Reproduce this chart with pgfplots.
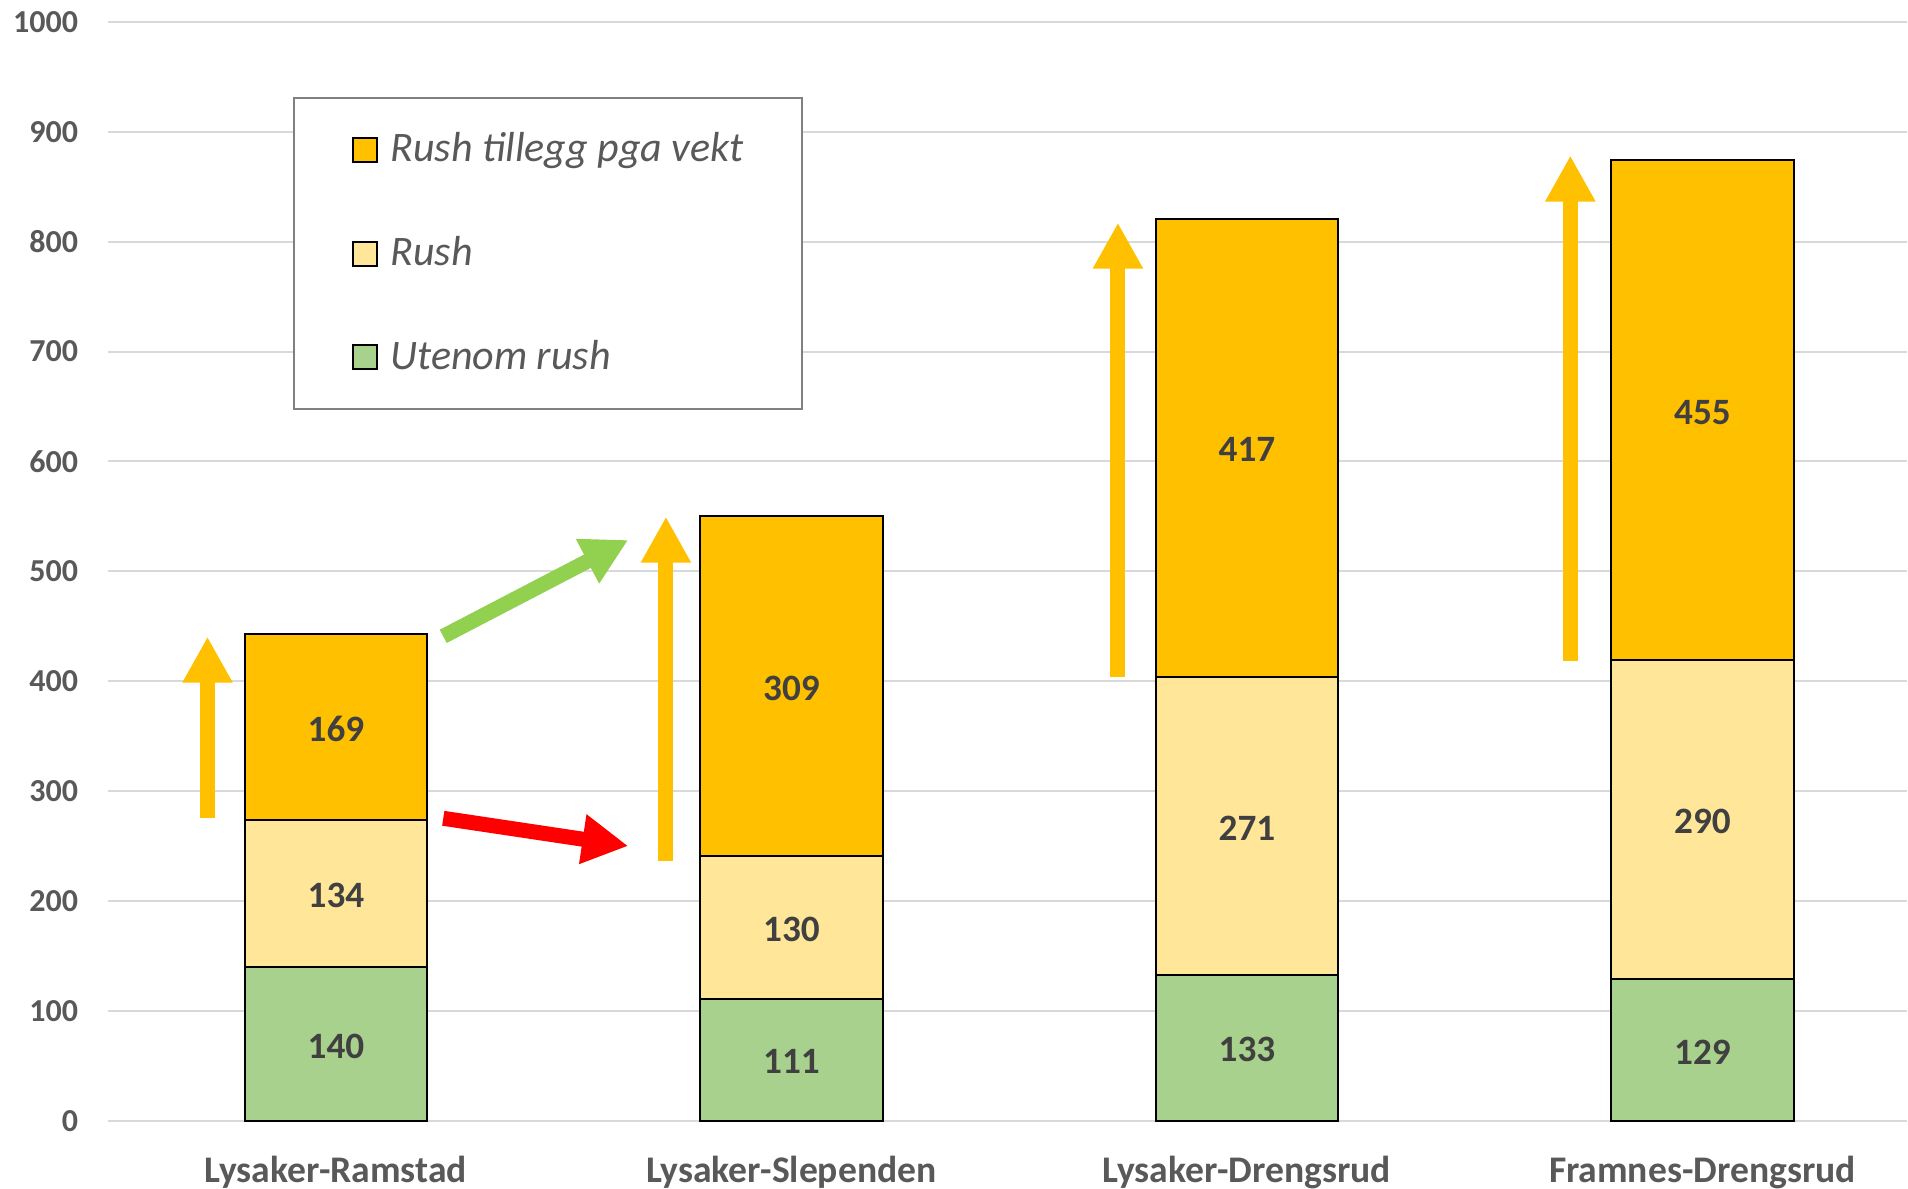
\documentclass[border=0pt]{standalone}
\usepackage{fontspec}
\setmainfont{Carlito}
\usepackage{pgfplots}
\pgfplotsset{compat=1.18}
\usetikzlibrary{arrows.meta}
\definecolor{cTill}{HTML}{FFC000}
\definecolor{cRush}{HTML}{FFE699}
\definecolor{cUten}{HTML}{A9D18E}
\definecolor{cArrG}{HTML}{92D050}
\definecolor{cArrR}{HTML}{FF0000}
\definecolor{cGrid}{HTML}{D9D9D9}
\definecolor{cTxt}{HTML}{595959}
\definecolor{cLab}{HTML}{404040}
\definecolor{cLeg}{HTML}{808080}
\pgfplotsset{sqlegend/.style={legend image code/.code={\draw[##1,draw=black,line width=1pt] (0pt,0pt) rectangle (12pt,12pt);}}}
\tikzset{datalab/.style={font=\fontsize{18.6}{18.6}\selectfont\bfseries, text=cLab, yshift=-1.1pt},
  arr/.style={line width=7.5pt, -{Triangle[width=23.5pt,length=23pt]}}}
\begin{document}
\begin{tikzpicture}
\useasboundingbox (0,0) rectangle (954pt,594.5pt);
\begin{axis}[
 at={(54.1pt,34.15pt)}, anchor=south west,
 scale only axis, width=899.6pt, height=549.4pt,
 xmin=-0.5, xmax=3.45, ymin=0, ymax=1000,
 ybar stacked, bar width=0.4,
 clip=false,
 axis line style={draw=none},
 major tick length=0pt,
 ytick={0,100,...,1000},
 xtick={0,1,2,3},
 xticklabels={Lysaker-Ramstad,Lysaker-Slependen,Lysaker-Drengsrud,Framnes-Drengsrud},
 ymajorgrids, grid style={cGrid, line width=1pt},
 /pgf/number format/assume math mode=true,
 /pgf/number format/1000 sep={},
 yticklabel style={font=\fontsize{16}{16}\selectfont\bfseries, text=cTxt, anchor=east, inner sep=0pt},
 yticklabel shift=14.9pt,
 xticklabel style={font=\fontsize{18.8}{18.8}\selectfont\bfseries, text=cTxt, anchor=base, inner sep=0pt},
 xticklabel shift=31pt,
 reverse legend,
 legend cell align=left,
 legend style={at={(0.1027,0.9317)}, anchor=north west, draw=cLeg, line width=1pt,
   inner xsep=29.2pt, inner ysep=19.5pt, row sep=38.85pt, column sep=6pt,
   nodes={inner sep=0pt, text height=12pt, text depth=0pt, font=\fontsize{21}{21}\selectfont\itshape, text=cTxt, anchor=base west}},
]
\addplot[fill=cUten, draw=black, line width=1pt, sqlegend] coordinates {(0,140) (1,111) (2,133) (3,129)};
\addlegendentry{Utenom rush}
\addplot[fill=cRush, draw=black, line width=1pt, sqlegend] coordinates {(0,134) (1,130) (2,271) (3,290)};
\addlegendentry{Rush}
\addplot[fill=cTill, draw=black, line width=1pt, sqlegend] coordinates {(0,169) (1,309) (2,417) (3,455)};
\addlegendentry{Rush tillegg pga vekt}

\coordinate (a1) at (axis cs:0,70);
\coordinate (a2) at (axis cs:0,207);
\coordinate (a3) at (axis cs:0,358.5);
\coordinate (b1) at (axis cs:1,55.5);
\coordinate (b2) at (axis cs:1,176);
\coordinate (b3) at (axis cs:1,395.5);
\coordinate (c1) at (axis cs:2,66.5);
\coordinate (c2) at (axis cs:2,268.5);
\coordinate (c3) at (axis cs:2,612.5);
\coordinate (d1) at (axis cs:3,64.5);
\coordinate (d2) at (axis cs:3,274);
\coordinate (d3) at (axis cs:3,646.5);

\draw[arr, cTill] (axis cs:-0.282,275.8) -- (axis cs:-0.282,440.5);
\draw[arr, cArrG] (axis cs:0.2356,440.8) -- (axis cs:0.6417,528.5);
\draw[arr, cArrR] (axis cs:0.2356,275.2) -- (axis cs:0.6417,250);
\draw[arr, cTill] (axis cs:0.7245,236.6) -- (axis cs:0.7245,549.7);
\draw[arr, cTill] (axis cs:1.7168,404.1) -- (axis cs:1.7168,817.3);
\draw[arr, cTill] (axis cs:2.710,418.5) -- (axis cs:2.710,878.4);
\end{axis}
\node[datalab] at (a1) {140};
\node[datalab] at (a2) {134};
\node[datalab] at (a3) {169};
\node[datalab] at (b1) {111};
\node[datalab] at (b2) {130};
\node[datalab] at (b3) {309};
\node[datalab] at (c1) {133};
\node[datalab] at (c2) {271};
\node[datalab] at (c3) {417};
\node[datalab] at (d1) {129};
\node[datalab] at (d2) {290};
\node[datalab] at (d3) {455};
\end{tikzpicture}
\end{document}
